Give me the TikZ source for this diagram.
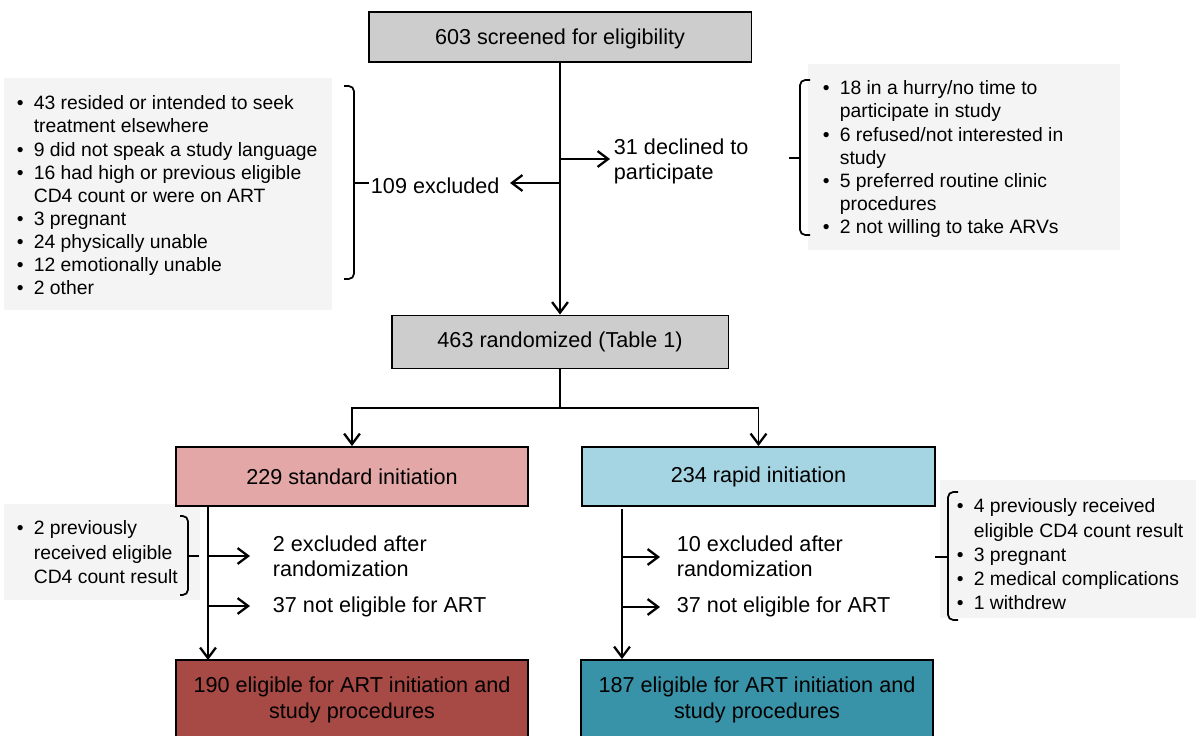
\documentclass[tikz,border=0pt]{standalone}
\usepackage{fontspec}
\setmainfont{Liberation Sans}
\usetikzlibrary{positioning,arrows.meta}

\definecolor{boxgray}{HTML}{CDCDCD}
\definecolor{stdpink}{HTML}{E2A7A6}
\definecolor{rapidblue}{HTML}{A5D5E3}
\definecolor{stdred}{HTML}{A74944}
\definecolor{rapidteal}{HTML}{3993A8}
\definecolor{listshade}{HTML}{F4F4F4}

\newcommand{\mainsize}{\fontsize{12.3}{14.4}\selectfont}
\newcommand{\bitem}{\makebox[9.6pt][l]{\textbullet}}
\newcommand{\bcont}{\hspace*{9.6pt}}

\begin{document}
\begin{tikzpicture}[x=0.02cm,y=-0.02cm,
  line width=1.1pt,
  >={Straight Barb[length=6pt,width=9pt,line width=1.3pt]},
  flowbox/.style={draw,line width=1.1pt,align=center,font=\mainsize,inner sep=2pt},
  lbl/.style={align=left,font=\mainsize,inner sep=0pt,anchor=north west},
  blist/.style={align=left,font=\fontsize{11}{#1}\selectfont,inner sep=0pt,anchor=north west},
  blist/.default=13.1,
  shadebox/.style={fill=listshade,draw=none},
  brk/.style={rounded corners=3pt,line width=1pt}
]
\clip (0,0) rectangle (1196,736);

% light panels behind the reason lists
\fill[shadebox] (4,78) rectangle (332,310);
\fill[shadebox] (808,64) rectangle (1120,250);
\fill[shadebox] (4,504) rectangle (200,600);
\fill[shadebox] (940,480) rectangle (1196,618);

\node[flowbox,fill=boxgray,minimum width=7.66cm,minimum height=1.0cm,text depth=0pt] (screen) at (560,37) {603 screened for eligibility};
\node[flowbox,fill=boxgray,minimum width=6.74cm,minimum height=1.06cm] (rand) at (560,342) {463 randomized (Table 1)};
\node[flowbox,fill=stdpink,minimum width=7.04cm,minimum height=1.18cm] (std) at (352,476.5) {229 standard initiation};
\node[flowbox,fill=rapidblue,minimum width=7.06cm,minimum height=1.18cm] (rapid) at (758.5,476.5) {234 rapid initiation};
\node[flowbox,fill=stdred,minimum width=7.04cm,minimum height=1.6cm] (stdelig) at (352,700) {190 eligible for ART initiation and\\study procedures};
\node[flowbox,fill=rapidteal,minimum width=7.04cm,minimum height=1.6cm] (rapidelig) at (757,700) {187 eligible for ART initiation and\\study procedures};

\node[lbl] (excl) at (370,177) {109 excluded};
\node[lbl] (decl) at (613,138) {31 declined to\\participate};
\node[lbl] (stdexcl) at (272,535) {2 excluded after\\randomization};
\node[lbl] (stdnot) at (272,596) {37 not eligible for ART};
\node[lbl] (rapidexcl) at (676,535) {10 excluded after\\randomization};
\node[lbl] (rapidnot) at (676,596) {37 not eligible for ART};

\node[blist] (exclwhy) at (16,95) {\bitem 43 resided or intended to seek\\
  \bcont treatment elsewhere\\
  \bitem 9 did not speak a study language\\
  \bitem 16 had high or previous eligible\\
  \bcont CD4 count or were on ART\\
  \bitem 3 pregnant\\
  \bitem 24 physically unable\\
  \bitem 12 emotionally unable\\
  \bitem 2 other};
\node[blist] (declwhy) at (822,80) {\bitem 18 in a hurry/no time to\\
  \bcont participate in study\\
  \bitem 6 refused/not interested in\\
  \bcont study\\
  \bitem 5 preferred routine clinic\\
  \bcont procedures\\
  \bitem 2 not willing to take ARVs};
\node[blist=13.7] (stdwhy) at (16,520) {\bitem 2 previously\\
  \bcont received eligible\\
  \bcont CD4 count result};
\node[blist=13.7] (rapidwhy) at (956,498) {\bitem 4 previously received\\
  \bcont eligible CD4 count result\\
  \bitem 3 pregnant\\
  \bitem 2 medical complications\\
  \bitem 1 withdrew};

% brackets
\draw[brk] (344,86) -- (354,86) -- (354,279) -- (344,279);
\draw (354,183) -- (369,183);
\draw[brk] (810,80) -- (800,80) -- (800,235) -- (810,235);
\draw (800,158) -- (789,158);
\draw[brk] (180,516) -- (188,516) -- (188,595) -- (180,595);
\draw (188,556) -- (199,556);
\draw[brk] (958,492) -- (948,492) -- (948,620) -- (958,620);
\draw (948,557) -- (935,557);

\coordinate (cdecl) at (560,159);
\coordinate (tdecl) at (610,159);
\coordinate (cexcl) at (560,183);
\coordinate (texcl) at (510,183);
\coordinate (split) at (560,408);
\coordinate (stdin) at (208,660);
\coordinate (rapidtop) at (622,509);
\coordinate (s1) at (208,556);
\coordinate (t1) at (250,556);
\coordinate (s2) at (208,606);
\coordinate (t2) at (250,606);
\coordinate (r1) at (622,557);
\coordinate (u1) at (660,557);
\coordinate (r2) at (622,607);
\coordinate (u2) at (660,607);

\draw[->] (screen) -- (rand);
\draw[->] (cdecl) -- (tdecl);
\draw[->] (cexcl) -- (texcl);
\draw (rand) -- (split);
\draw[->] (split) -| (std.north);
\draw[->] (split) -| (rapid.north);
\draw[->] (std.south -| stdin) -- (stdin);
\draw[->] (s1) -- (t1);
\draw[->] (s2) -- (t2);
\draw[->] (rapidtop) -- (rapidelig.north -| rapidtop);
\draw[->] (r1) -- (u1);
\draw[->] (r2) -- (u2);
\end{tikzpicture}
\end{document}
